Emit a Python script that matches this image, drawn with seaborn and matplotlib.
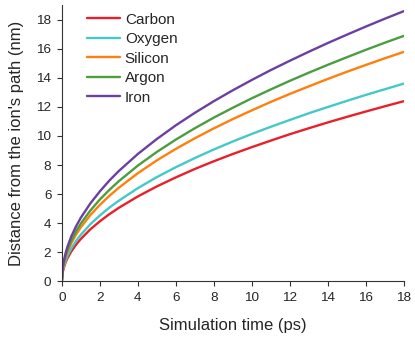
import matplotlib
matplotlib.use("Agg")
import matplotlib.pyplot as plt
import seaborn as sns
import pandas as pd

# values
time_ps = [0, 0.05, 0.1, 0.2, 0.3, 0.5, 0.75, 1, 1.5, 2, 2.5, 3, 4, 5, 6,
           7, 8, 9, 10, 11, 12, 13, 14, 15, 16, 17, 18]
carbon = [0, 0.65, 0.92, 1.31, 1.60, 2.06, 2.53, 2.92, 3.58, 4.13, 4.62, 5.06,
          5.84, 6.53, 7.15, 7.73, 8.26, 8.76, 9.23, 9.68, 10.12, 10.53, 10.93,
          11.31, 11.68, 12.04, 12.39]
oxygen = [0, 0.72, 1.01, 1.43, 1.76, 2.27, 2.78, 3.21, 3.93, 4.53, 5.07, 5.55,
          6.41, 7.17, 7.85, 8.48, 9.07, 9.62, 10.14, 10.63, 11.10, 11.56, 11.99,
          12.41, 12.82, 13.21, 13.60]
silicon = [0, 0.83, 1.18, 1.66, 2.04, 2.63, 3.22, 3.72, 4.56, 5.26, 5.88, 6.44,
           7.44, 8.32, 9.11, 9.84, 10.52, 11.16, 11.76, 12.34, 12.89, 13.41,
           13.92, 14.41, 14.88, 15.34, 15.78]
argon = [0, 0.89, 1.26, 1.78, 2.18, 2.81, 3.45, 3.98, 4.87, 5.63, 6.29, 6.89,
         7.96, 8.90, 9.75, 10.53, 11.26, 11.94, 12.59, 13.20, 13.79, 14.35,
         14.89, 15.41, 15.92, 16.41, 16.88]
iron = [0, 0.98, 1.39, 1.96, 2.40, 3.10, 3.79, 4.38, 5.36, 6.19, 6.93, 7.59,
        8.76, 9.79, 10.73, 11.59, 12.39, 13.14, 13.85, 14.53, 15.17, 15.79,
        16.39, 16.96, 17.52, 18.06, 18.58]

elements = ["Carbon", "Oxygen", "Silicon", "Argon", "Iron"]
series = [carbon, oxygen, silicon, argon, iron]
colors = ["#e8202a", "#45c8c8", "#ff7f0e", "#4a9e3f", "#6c3fa0"]

df = pd.DataFrame({
    "time": time_ps * len(elements),
    "dist": sum(series, []),
    "element": [e for e in elements for _ in time_ps],
})

sns.set_style("ticks")
plt.rcParams["font.family"] = ["Liberation Sans", "DejaVu Sans"]

fig = plt.figure(figsize=(4.15, 3.37), dpi=100)
ax = fig.add_axes([0.149, 0.165, 0.824, 0.820])
sns.lineplot(data=df, x="time", y="dist", hue="element", hue_order=elements,
             palette=colors, linewidth=1.7, ax=ax)

ax.set_xlim(0, 18)
ax.set_ylim(0, 19)
ax.set_xticks(range(0, 19, 2))
ax.set_yticks(range(0, 19, 2))
ax.tick_params(labelsize=9.7, length=3.5, width=0.8, color="#333333", pad=4)
ax.set_xlabel("Simulation time (ps)", fontsize=12, labelpad=10)
ax.set_ylabel("Distance from the ion's path (nm)", fontsize=12, labelpad=9)
sns.despine(ax=ax)
for s in ["left", "bottom"]:
    ax.spines[s].set_color("#333333")
    ax.spines[s].set_linewidth(0.8)

ax.legend(loc="upper left", bbox_to_anchor=(0.05, 1.0), frameon=False,
          fontsize=11, handlelength=2.2, handletextpad=0.3, labelspacing=0.36,
          borderaxespad=0.1)

fig.savefig("out.png", dpi=100)
